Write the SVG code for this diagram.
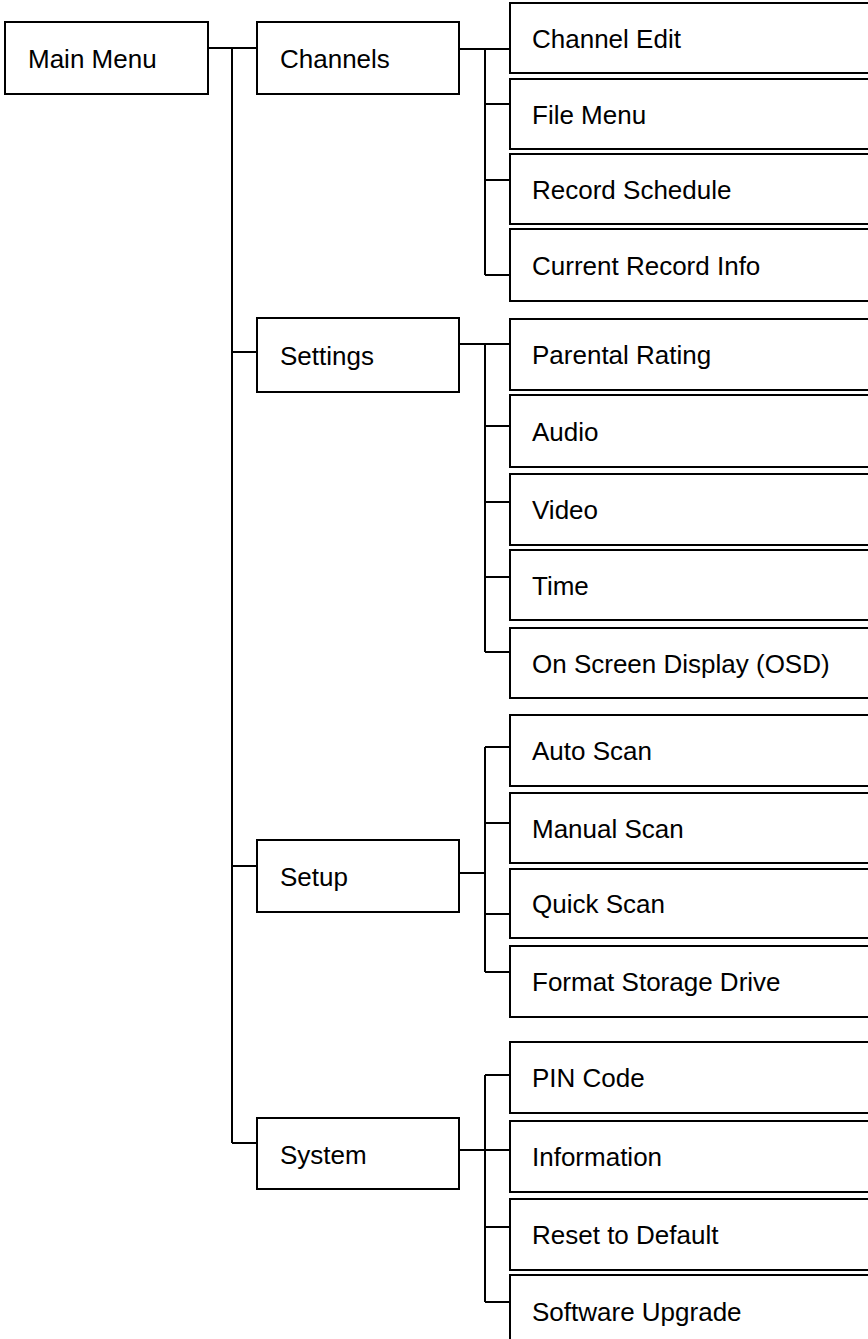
<svg xmlns="http://www.w3.org/2000/svg" width="868" height="1339" viewBox="0 0 868 1339">
<style>
.box{fill:#fff;stroke:#000;stroke-width:2}
.t{font-family:"Liberation Sans",Arial,Helvetica,sans-serif;font-size:26px;fill:#000}
.c{fill:none;stroke:#000;stroke-width:2}
</style>
<rect width="868" height="1339" fill="#fff"/>
<g id="connectors">
<path class="c" d="M208 48H257M232 48V1143M232 352H257M232 866H257M232 1143H257"/>
<path class="c" d="M459 49H510M485 49V275M485 104H510M485 180H510M485 275H510"/>
<path class="c" d="M459 344H510M485 344V652M485 426H510M485 502H510M485 577H510M485 652H510"/>
<path class="c" d="M459 873H485M485 747V972M485 747H510M485 823H510M485 914H510M485 972H510"/>
<path class="c" d="M459 1150H510M485 1075V1302M485 1075H510M485 1227H510M485 1302H510"/>
</g>
<g id="main-menu"><rect class="box" x="5" y="22" width="203" height="72"/><text class="t" x="28" y="68">Main Menu</text></g>
<g id="channels"><rect class="box" x="257" y="22" width="202" height="72"/><text class="t" x="280" y="68">Channels</text></g>
<g id="settings"><rect class="box" x="257" y="318" width="202" height="74"/><text class="t" x="280" y="365">Settings</text></g>
<g id="setup"><rect class="box" x="257" y="840" width="202" height="72"/><text class="t" x="280" y="886">Setup</text></g>
<g id="system"><rect class="box" x="257" y="1118" width="202" height="71"/><text class="t" x="280" y="1164">System</text></g>
<g id="channel-edit"><rect class="box" x="510" y="3" width="400" height="70"/><text class="t" x="532" y="48">Channel Edit</text></g>
<g id="file-menu"><rect class="box" x="510" y="79" width="400" height="70"/><text class="t" x="532" y="124">File Menu</text></g>
<g id="record-schedule"><rect class="box" x="510" y="154" width="400" height="70"/><text class="t" x="532" y="199">Record Schedule</text></g>
<g id="current-record-info"><rect class="box" x="510" y="229" width="400" height="72"/><text class="t" x="532" y="275">Current Record Info</text></g>
<g id="parental-rating"><rect class="box" x="510" y="319" width="400" height="71"/><text class="t" x="532" y="364">Parental Rating</text></g>
<g id="audio"><rect class="box" x="510" y="395" width="400" height="72"/><text class="t" x="532" y="441">Audio</text></g>
<g id="video"><rect class="box" x="510" y="474" width="400" height="71"/><text class="t" x="532" y="519">Video</text></g>
<g id="time"><rect class="box" x="510" y="550" width="400" height="70"/><text class="t" x="532" y="595">Time</text></g>
<g id="osd"><rect class="box" x="510" y="628" width="400" height="70"/><text class="t" x="532" y="673">On Screen Display (OSD)</text></g>
<g id="auto-scan"><rect class="box" x="510" y="715" width="400" height="71"/><text class="t" x="532" y="760">Auto Scan</text></g>
<g id="manual-scan"><rect class="box" x="510" y="793" width="400" height="70"/><text class="t" x="532" y="838">Manual Scan</text></g>
<g id="quick-scan"><rect class="box" x="510" y="869" width="400" height="69"/><text class="t" x="532" y="913">Quick Scan</text></g>
<g id="format-storage-drive"><rect class="box" x="510" y="946" width="400" height="71"/><text class="t" x="532" y="991">Format Storage Drive</text></g>
<g id="pin-code"><rect class="box" x="510" y="1042" width="400" height="71"/><text class="t" x="532" y="1087">PIN Code</text></g>
<g id="information"><rect class="box" x="510" y="1121" width="400" height="71"/><text class="t" x="532" y="1166">Information</text></g>
<g id="reset-to-default"><rect class="box" x="510" y="1199" width="400" height="71"/><text class="t" x="532" y="1244">Reset to Default</text></g>
<g id="software-upgrade"><rect class="box" x="510" y="1275" width="400" height="72"/><text class="t" x="532" y="1321">Software Upgrade</text></g>
</svg>
